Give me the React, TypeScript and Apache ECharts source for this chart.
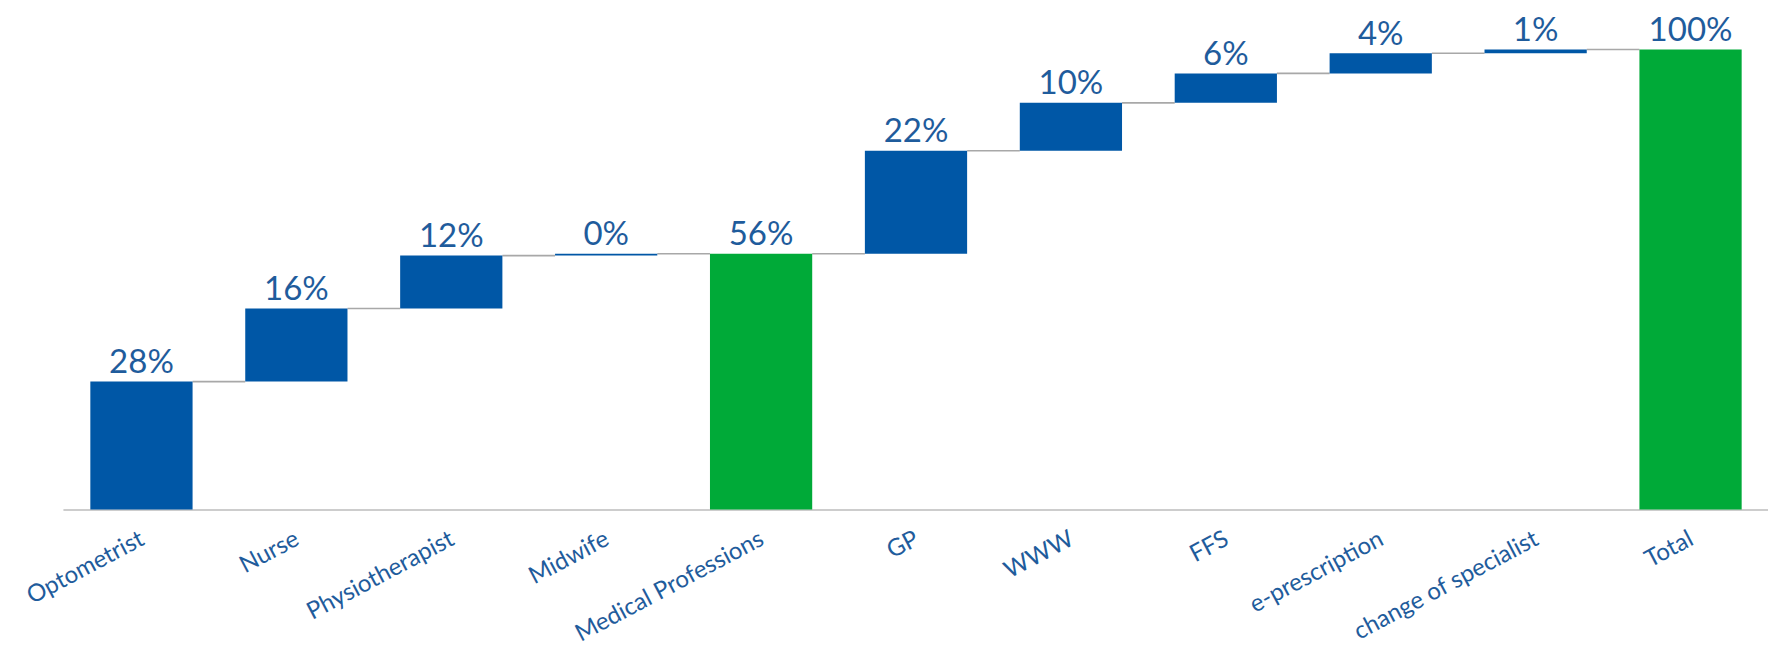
import React, { useEffect, useRef } from "react";
import * as echarts from "echarts";

const categories = [
  "Optometrist",
  "Nurse",
  "Physiotherapist",
  "Midwife",
  "Medical Professions",
  "GP",
  "WWW",
  "FFS",
  "e-prescription",
  "change of specialist",
  "Total",
];
// change per step (delta) or level (total), in %
const values = [27.8, 15.9, 11.5, 0.4, 55.6, 22.4, 10.4, 6.4, 4.4, 0.8, 100];
const kinds = ["d", "d", "d", "d", "t", "d", "d", "d", "d", "d", "t"];

const BLUE = "#0057A6";
const GREEN = "#00AA38";
const TEXT = "#1F5C9C";
const FONT = "Lato, 'Open Sans', sans-serif";
const BAR_RATIO = 0.66;

export default function App() {
  const ref = useRef<HTMLDivElement>(null);
  useEffect(() => {
    if (!ref.current) return;
    const chart = echarts.init(ref.current, undefined, { renderer: "svg" });

    const bases: number[] = [];
    const levels: number[] = [];
    let run = 0;
    values.forEach((v, i) => {
      if (kinds[i] === "t") {
        bases.push(0);
        run = v;
      } else {
        bases.push(run);
        run = run + v;
      }
      levels.push(run);
    });

    const connectorData = levels.slice(0, -1).map((lv, i) => [i, lv]);

    chart.setOption({
      animation: false,
      grid: { left: 64, width: 1716, top: 49.5, bottom: 151.5 },
      xAxis: {
        type: "category",
        data: categories,
        axisLine: { show: true, lineStyle: { color: "#BDBDBD", width: 1.6 } },
        axisTick: { show: false },
        axisLabel: {
          rotate: 28,
          margin: 26,
          fontSize: 24,
          color: TEXT,
          fontFamily: FONT,
          interval: 0,
        },
      },
      yAxis: {
        type: "value",
        min: 0,
        max: 100,
        show: false,
        splitLine: { show: false },
      },
      series: [
        {
          type: "bar",
          stack: "wf",
          barWidth: BAR_RATIO * 100 + "%",
          itemStyle: { color: "transparent" },
          emphasis: { disabled: true },
          data: bases,
          silent: true,
        },
        {
          type: "bar",
          stack: "wf",
          barWidth: BAR_RATIO * 100 + "%",
          data: values.map((v, i) => ({
            value: v,
            itemStyle: { color: kinds[i] === "t" ? GREEN : BLUE },
          })),
          label: {
            show: true,
            position: "top",
            distance: 5,
            fontSize: 33,
            fontFamily: FONT,
            color: TEXT,
            formatter: (p: any) => Math.round(p.value) + "%",
          },
        },
        {
          type: "custom",
          silent: true,
          data: connectorData,
          z: 1,
          renderItem: (params: any, api: any) => {
            const i = api.value(0);
            const lv = api.value(1);
            const a = api.coord([i, lv]);
            const b = api.coord([i + 1, lv]);
            const half = (api.size([1, 0])[0] * BAR_RATIO) / 2;
            return {
              type: "line",
              shape: { x1: a[0] + half, y1: a[1], x2: b[0] - half, y2: b[1] },
              style: { stroke: "#A8A8A8", lineWidth: 1.6 },
            };
          },
        },
      ],
    });
    return () => chart.dispose();
  }, []);
  return (
    <div
      ref={ref}
      style={{ position: "absolute", left: 0, top: 0, width: 1768, height: 661, background: "#fff" }}
    />
  );
}
